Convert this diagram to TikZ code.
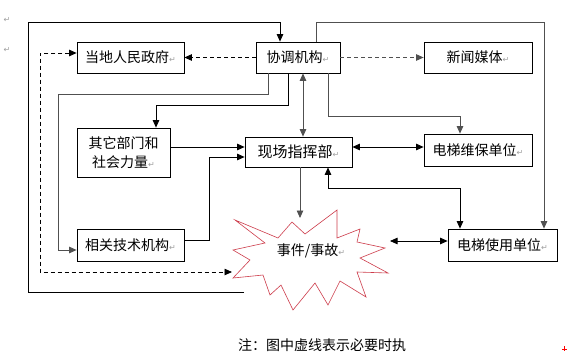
\documentclass[tikz,border=0pt]{standalone}
\usepackage{fontspec}
\newfontfamily\cjk{Noto Sans CJK SC}
\newfontfamily\djv{DejaVu Sans}
\usetikzlibrary{arrows.meta}
\definecolor{starred}{RGB}{205,60,75}
\definecolor{gline}{RGB}{80,80,80}
\newcommand\rmk{{\djv\fontsize{8}{8}\selectfont\textcolor{gray!75}{↵}}}
\begin{document}
\begin{tikzpicture}[x=1pt,y=-1pt,
  box/.style={draw, line width=0.8pt, fill=white, inner sep=0pt, font=\cjk\fontsize{14}{19}\selectfont, align=center},
  ftri/.tip={Triangle[length=7.5pt,width=6.5pt]},
  arr/.style={-ftri, line width=0.8pt},
  darr/.style={ftri-ftri, line width=0.8pt},
  dsh/.style={dash pattern=on 4pt off 3pt},
  txt/.style={font=\cjk\fontsize{14}{17}\selectfont, inner sep=0pt}]
\useasboundingbox (0,0) rectangle (568,351);
\fill[white] (0,0) rectangle (568,351);

\node[inner sep=0pt] (r1) at (7,20) {\rmk};
\node[inner sep=0pt] (r2) at (7,50) {\rmk};

\node[box, minimum width=107pt, minimum height=31pt] (gov) at (130.5,57.5) {当地人民政府\rmk};
\node[box, minimum width=84pt, minimum height=31pt] (coord) at (298,57.5) {协调机构\rmk};
\node[box, minimum width=108pt, minimum height=31pt] (media) at (478,57.5) {新闻媒体\rmk};
\node[box, minimum width=93pt, minimum height=49pt] (other) at (123.5,152.5) {其它部门和\\社会力量\rmk};
\node[box, minimum width=107pt, minimum height=30pt, font=\cjk\fontsize{15}{18}\selectfont] (cmd) at (298.5,152) {现场指挥部\rmk};
\node[box, minimum width=108pt, minimum height=32pt] (maint) at (478,150) {电梯维保单位\rmk};
\node[box, minimum width=107pt, minimum height=32pt] (tech) at (130.5,245) {相关技术机构\rmk};
\node[box, minimum width=109pt, minimum height=32pt] (user) at (502.5,245) {电梯使用单位\rmk};

% star
\draw[starred, line width=0.6pt, fill=white, line join=miter]
  (235,220) -- (278,238) -- (292,222) -- (305,234) -- (337,210) -- (337,238)
  -- (360,229) -- (357,242) -- (385,248) -- (360,258) -- (388,273) -- (357,272)
  -- (366,297) -- (340,281) -- (328,305) -- (315,283) -- (293,310) -- (281,285)
  -- (270,295) -- (263,275) -- (233,278) -- (250,260) -- (233,250) -- (265,243) -- cycle;
\node[txt] (event) at (311,251) {事件/事故\rmk};

\coordinate (loopend) at (244,292);
\coordinate (dstar) at (232,272);
\coordinate (stop) at (300,218);
\coordinate (sR) at (390,241);

% connectors
\draw[arr] (loopend) -| (28,22) -| (coord.north -| 280,0);
\draw[arr, dsh] (coord.west) -- (gov.east);
\draw[darr, dsh] (gov.west |- 0,53) -| (40,272) -- (dstar);
\draw[arr, dsh, gline] (coord.east) -- (media.west);
\draw[arr, gline] (coord.south -| 268,0) |- (58,94) |- (tech.west |- 0,250);
\draw[arr] (coord.south -| 288,0) |- (156,105) -- (other.north -| 156,0);
\draw[darr, gline] (coord.south -| 303,0) -- (cmd.north -| 303,0);
\draw[arr, gline] (coord.south -| 328,0) |- (460,116) -- (maint.north -| 460,0);
\draw[arr, gline] (coord.north -| 316,0) |- (544,22) -- (user.north -| 544,0);
\draw[darr] (cmd.east |- 0,147) -- (maint.west |- 0,147);
\draw[arr] (other.east |- 0,147) -- (cmd.west |- 0,147);
\draw[arr] (tech.east |- 0,240) -| (209,157) -- (cmd.west |- 0,157);
\draw[arr, gline] (cmd.south -| 300,0) -- (stop);
\draw[darr] (cmd.south -| 328,0) |- (460,188) -- (user.north -| 460,0);
\draw[darr] (sR) -- (user.west |- 0,241);

\node[txt, anchor=west] (note) at (238,345) {注：图中虚线表示必要时执};
\draw[red, line width=1pt] (562,349) -- (567,349) (564.5,346) -- (564.5,351);
\end{tikzpicture}
\end{document}
